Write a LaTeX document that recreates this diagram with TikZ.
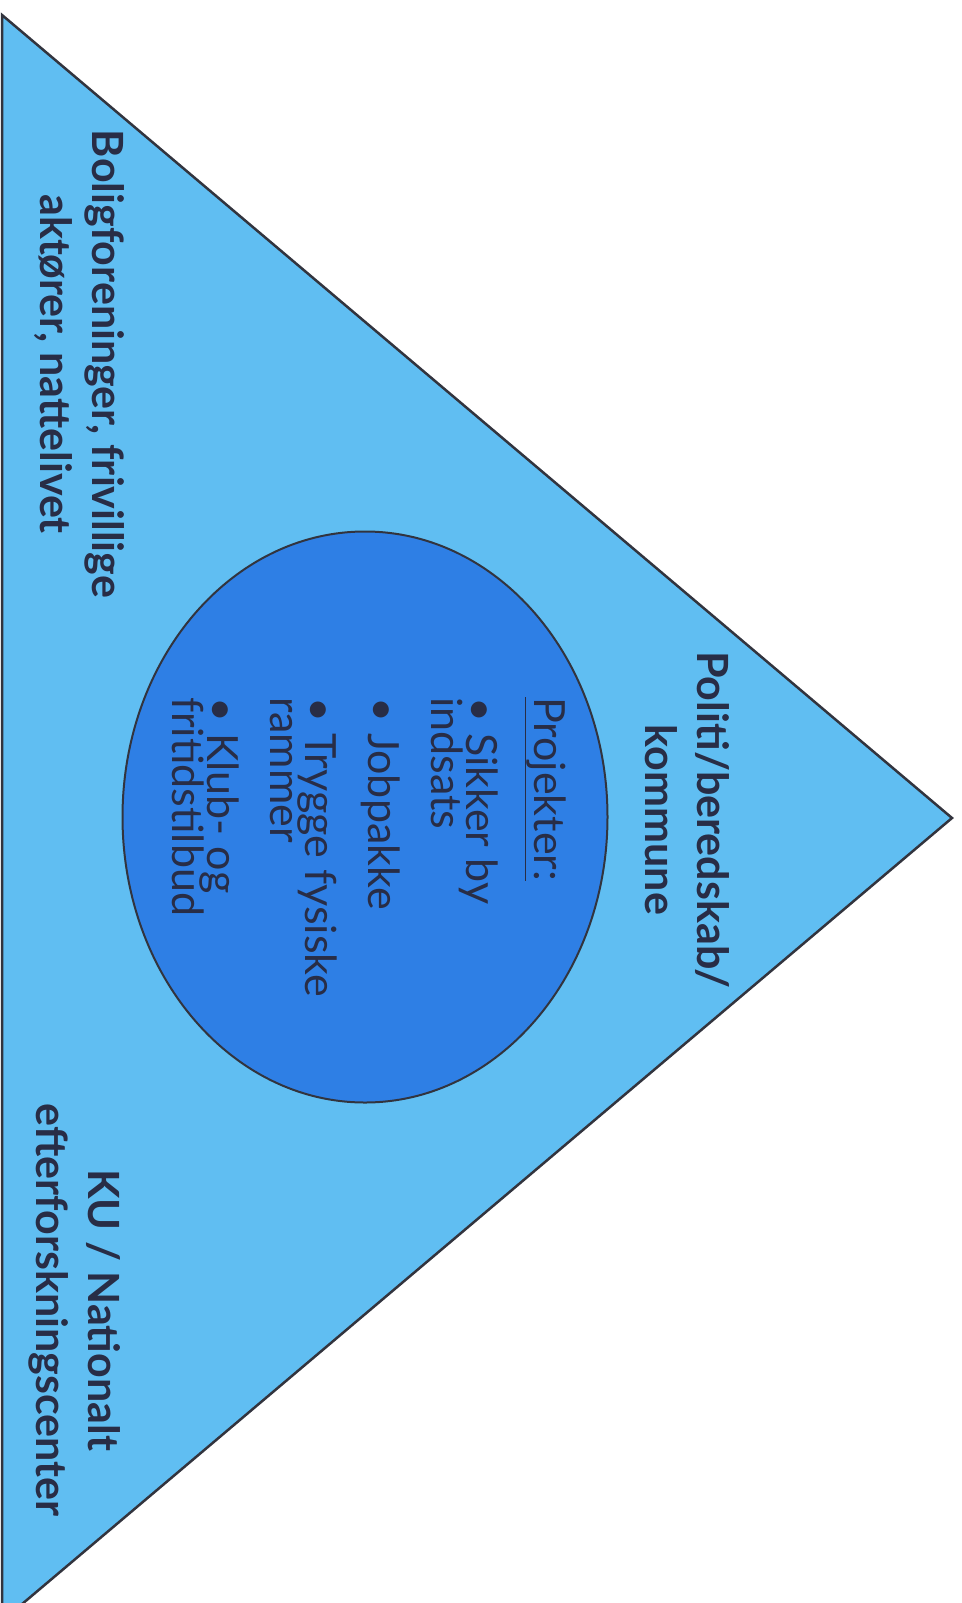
\documentclass[tikz,border=0pt]{standalone}
\usepackage{fontspec}
\setmainfont{Lato}
\usepackage{tikz}
\usetikzlibrary{shapes.geometric}
\definecolor{trifill}{RGB}{96,190,242}
\definecolor{projfill}{RGB}{46,127,229}
\definecolor{labeltext}{RGB}{40,45,70}
\definecolor{edge}{RGB}{50,52,62}
\newcommand{\projfont}{\fontsize{43}{35}\selectfont\lineskiplimit=-50pt\relax}

\begin{document}
\begin{tikzpicture} [x=1pt, y=-1pt, line join=miter,
  side/.style ={rotate=-90, align=center, inner sep=0pt, text=labeltext, font=\bfseries\fontsize{43}{52}\selectfont},
  projlist/.style ={rotate=-90, align=left, inner sep=0pt, text=labeltext, font=\projfont},
  projbox/.style ={ellipse, draw=edge, fill=projfill, line width=2pt, minimum width=485pt, minimum height=571pt, inner sep=0pt}]
\useasboundingbox (0,0) rectangle (961,1603);
% triangle of actors
\coordinate (T0) at (2,15);
\coordinate (T1) at (952,818);
\coordinate (T2) at (2,1621);
\draw[draw=edge, fill=trifill, line width=2.5pt] (T0) -- (T1) -- (T2) -- cycle;
% projects in the middle
\node[projbox] (P) at (365,817) {};
\node[projlist, anchor=north west] (L) at (566,697) {\underline{Projekter:}\\[33pt]
\textbullet\ Sikker by\\ indsats\\[28pt]
\textbullet\ Jobpakke\\[28pt]
\textbullet\ Trygge fysiske\\ rammer\\[28pt]
\textbullet\ Klub- og\\ fritidstilbud};
% corner labels
\node[side] (A) at (79,364) {Boligforeninger, frivillige\\ aktører, nattelivet};
\node[side] (B) at (687,820) {Politi/beredskab/\\ kommune};
\node[side] (C) at (75,1310) {KU / Nationalt\\ efterforskningscenter};
\end{tikzpicture}
\end{document}
